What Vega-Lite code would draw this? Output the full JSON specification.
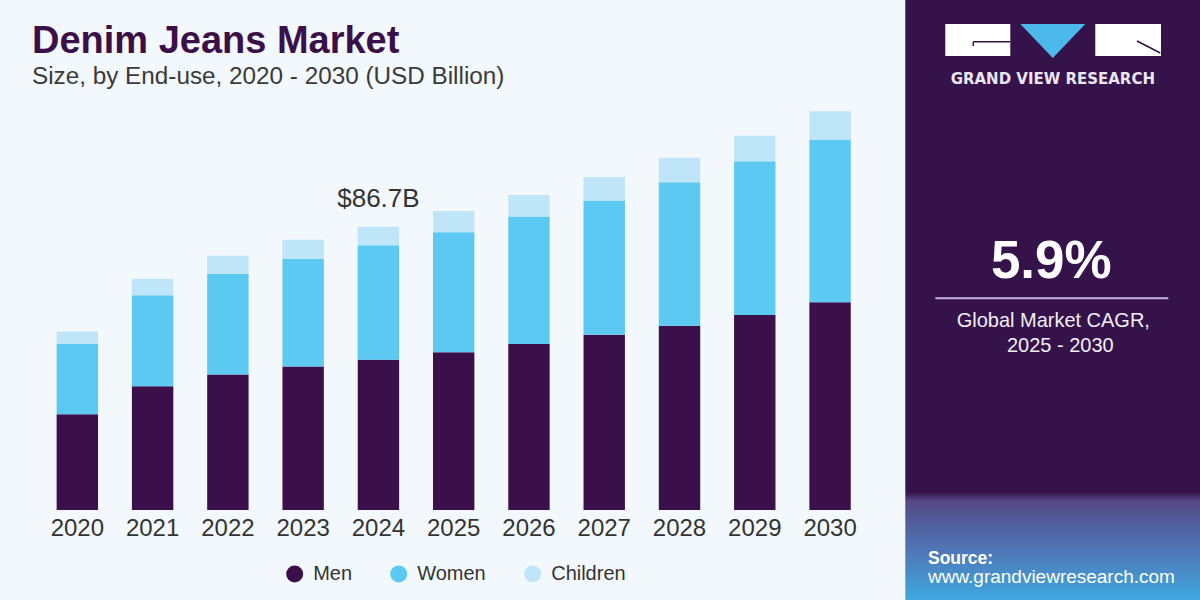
{
  "$schema": "https://vega.github.io/schema/vega-lite/v6.json",
  "background": "#f3f8fc",
  "padding": {"left": 31.7, "top": 0, "right": 0, "bottom": 0},
  "bounds": "flush",
  "spacing": 37.6,
  "config": {
    "view": {"stroke": null},
    "font": "Liberation Sans",
    "legend": {
      "orient": "none",
      "legendX": 245,
      "legendY": 564,
      "direction": "horizontal",
      "symbolType": "circle",
      "symbolSize": 289,
      "symbolStrokeWidth": 0,
      "symbolOpacity": 1,
      "labelFont": "Liberation Sans",
      "labelFontSize": 20,
      "labelColor": "#333333",
      "labelOffset": 8.5,
      "columnPadding": 36,
      "padding": 0
    }
  },
  "hconcat": [
    {
      "width": 828,
      "height": 510,
      "title": {
        "text": "Denim Jeans Market",
        "subtitle": "Size, by End-use, 2020 - 2030 (USD Billion)",
        "anchor": "start",
        "frame": "group",
        "orient": "top",
        "offset": -89,
        "dx": -7.7,
        "font": "Liberation Sans",
        "fontSize": 38,
        "fontWeight": "bold",
        "color": "#3b1049",
        "subtitleFont": "Liberation Sans",
        "subtitleFontSize": 24.3,
        "subtitleColor": "#3a3a3a",
        "subtitlePadding": 4
      },
      "layer": [
        {
          "data": {
            "values": [
              {"year": "2020", "segment": "Men", "value": 29.3},
              {"year": "2020", "segment": "Women", "value": 21.5},
              {"year": "2020", "segment": "Children", "value": 3.8},
              {"year": "2021", "segment": "Men", "value": 37.9},
              {"year": "2021", "segment": "Women", "value": 27.8},
              {"year": "2021", "segment": "Children", "value": 5.1},
              {"year": "2022", "segment": "Men", "value": 41.5},
              {"year": "2022", "segment": "Women", "value": 30.8},
              {"year": "2022", "segment": "Children", "value": 5.5},
              {"year": "2023", "segment": "Men", "value": 43.9},
              {"year": "2023", "segment": "Women", "value": 32.9},
              {"year": "2023", "segment": "Children", "value": 5.9},
              {"year": "2024", "segment": "Men", "value": 46.0},
              {"year": "2024", "segment": "Women", "value": 35.0},
              {"year": "2024", "segment": "Children", "value": 5.7},
              {"year": "2025", "segment": "Men", "value": 48.3},
              {"year": "2025", "segment": "Women", "value": 36.7},
              {"year": "2025", "segment": "Children", "value": 6.5},
              {"year": "2026", "segment": "Men", "value": 50.8},
              {"year": "2026", "segment": "Women", "value": 39.0},
              {"year": "2026", "segment": "Children", "value": 6.6},
              {"year": "2027", "segment": "Men", "value": 53.6},
              {"year": "2027", "segment": "Women", "value": 41.1},
              {"year": "2027", "segment": "Children", "value": 7.2},
              {"year": "2028", "segment": "Men", "value": 56.4},
              {"year": "2028", "segment": "Women", "value": 43.9},
              {"year": "2028", "segment": "Children", "value": 7.5},
              {"year": "2029", "segment": "Men", "value": 59.7},
              {"year": "2029", "segment": "Women", "value": 47.0},
              {"year": "2029", "segment": "Children", "value": 7.8},
              {"year": "2030", "segment": "Men", "value": 63.6},
              {"year": "2030", "segment": "Women", "value": 49.8},
              {"year": "2030", "segment": "Children", "value": 8.6}
            ]
          },
          "transform": [
            {"calculate": "indexof(['Men', 'Women', 'Children'], datum.segment)", "as": "stack_rank"}
          ],
          "mark": {"type": "bar"},
          "encoding": {
            "x": {
              "field": "year",
              "type": "ordinal",
              "scale": {"paddingInner": 0.45, "paddingOuter": 0.225},
              "axis": {
                "title": null,
                "domain": false,
                "ticks": false,
                "labelAngle": 0,
                "labelFont": "Liberation Sans",
                "labelFontSize": 24,
                "labelColor": "#333333",
                "labelPadding": 7
              }
            },
            "y": {
              "field": "value",
              "type": "quantitative",
              "stack": "zero",
              "axis": null,
              "scale": {"domain": [0, 156.08], "nice": false}
            },
            "color": {
              "field": "segment",
              "type": "nominal",
              "sort": ["Men", "Women", "Children"],
              "scale": {
                "domain": ["Men", "Women", "Children"],
                "range": ["#3b0f4a", "#5bc9f2", "#bee6f8"]
              },
              "legend": {"title": null}
            },
            "order": {"field": "stack_rank", "type": "quantitative", "sort": "ascending"}
          }
        },
        {
          "data": {"values": [{"year": "2024", "total": 86.7, "label": "$86.7B"}]},
          "mark": {
            "type": "text",
            "dy": -20,
            "baseline": "alphabetic",
            "align": "center",
            "font": "Liberation Sans",
            "fontSize": 26,
            "color": "#333333"
          },
          "encoding": {
            "x": {"field": "year", "type": "ordinal"},
            "y": {"field": "total", "type": "quantitative"},
            "text": {"field": "label"}
          }
        }
      ]
    },
    {
      "width": 295,
      "height": 600,
      "view": {
        "stroke": null,
        "fill": {
          "gradient": "linear",
          "x1": 0, "y1": 0, "x2": 0, "y2": 1,
          "stops": [
            {"offset": 0, "color": "#35124a"},
            {"offset": 0.82, "color": "#35124a"},
            {"offset": 0.835, "color": "#554985"},
            {"offset": 0.92, "color": "#4f78b8"},
            {"offset": 1, "color": "#3ea8de"}
          ]
        }
      },
      "layer": [
        {
          "data": {"values": [{}]},
          "mark": {"type": "rect", "color": "#ffffff"},
          "encoding": {
            "x": {"datum": 40, "type": "quantitative", "scale": {"domain": [0, 295], "nice": false, "zero": false}, "axis": null},
            "x2": {"datum": 105},
            "y": {"datum": 24, "type": "quantitative", "scale": {"domain": [0, 600], "nice": false, "zero": false, "reverse": true}, "axis": null},
            "y2": {"datum": 56}
          }
        },
        {
          "data": {"values": [{}]},
          "mark": {"type": "rect", "color": "#ffffff"},
          "encoding": {
            "x": {"datum": 190, "type": "quantitative", "axis": null},
            "x2": {"datum": 255.7},
            "y": {"datum": 24, "type": "quantitative", "axis": null},
            "y2": {"datum": 56}
          }
        },
        {
          "data": {"values": [{}]},
          "mark": {"type": "point", "shape": "M-1,-0.523L1,-0.523L0,0.523Z", "filled": true, "opacity": 1, "color": "#4cb9ec", "size": 4225},
          "encoding": {
            "x": {"datum": 147.5, "type": "quantitative", "axis": null},
            "y": {"datum": 41, "type": "quantitative", "axis": null}
          }
        },
        {
          "data": {"values": [{}]},
          "mark": {"type": "rule", "color": "#35124a", "strokeWidth": 1.5},
          "encoding": {
            "x": {"datum": 68, "type": "quantitative", "axis": null},
            "x2": {"datum": 105},
            "y": {"datum": 41.7, "type": "quantitative", "axis": null},
            "y2": {"datum": 41.7}
          }
        },
        {
          "data": {"values": [{}]},
          "mark": {"type": "rule", "color": "#35124a", "strokeWidth": 1.5},
          "encoding": {
            "x": {"datum": 68, "type": "quantitative", "axis": null},
            "x2": {"datum": 68},
            "y": {"datum": 41.7, "type": "quantitative", "axis": null},
            "y2": {"datum": 46}
          }
        },
        {
          "data": {"values": [{}]},
          "mark": {"type": "rule", "color": "#35124a", "strokeWidth": 1.5},
          "encoding": {
            "x": {"datum": 231.7, "type": "quantitative", "axis": null},
            "x2": {"datum": 255},
            "y": {"datum": 41, "type": "quantitative", "axis": null},
            "y2": {"datum": 53}
          }
        },
        {
          "data": {"values": [{}]},
          "mark": {"type": "text", "text": "GRAND VIEW RESEARCH", "font": "DejaVu Sans", "fontWeight": "bold", "fontSize": 15, "color": "#ece6f2", "align": "center", "baseline": "alphabetic"},
          "encoding": {
            "x": {"datum": 147.5, "type": "quantitative", "axis": null},
            "y": {"datum": 84, "type": "quantitative", "axis": null}
          }
        },
        {
          "data": {"values": [{}]},
          "mark": {"type": "text", "text": "5.9%", "font": "Liberation Sans", "fontWeight": "bold", "fontSize": 53, "color": "#ffffff", "align": "center", "baseline": "alphabetic"},
          "encoding": {
            "x": {"datum": 146, "type": "quantitative", "axis": null},
            "y": {"datum": 277.7, "type": "quantitative", "axis": null}
          }
        },
        {
          "data": {"values": [{}]},
          "mark": {"type": "rule", "color": "#c6b0e0", "strokeWidth": 2},
          "encoding": {
            "x": {"datum": 30, "type": "quantitative", "axis": null},
            "x2": {"datum": 263},
            "y": {"datum": 298.3, "type": "quantitative", "axis": null},
            "y2": {"datum": 298.3}
          }
        },
        {
          "data": {"values": [{}]},
          "mark": {"type": "text", "text": "Global Market CAGR,", "font": "Liberation Sans", "fontSize": 20, "color": "#f2eef6", "align": "center", "baseline": "alphabetic"},
          "encoding": {
            "x": {"datum": 148, "type": "quantitative", "axis": null},
            "y": {"datum": 326.7, "type": "quantitative", "axis": null}
          }
        },
        {
          "data": {"values": [{}]},
          "mark": {"type": "text", "text": "2025 - 2030", "font": "Liberation Sans", "fontSize": 20, "color": "#f2eef6", "align": "center", "baseline": "alphabetic"},
          "encoding": {
            "x": {"datum": 155, "type": "quantitative", "axis": null},
            "y": {"datum": 351.7, "type": "quantitative", "axis": null}
          }
        },
        {
          "data": {"values": [{}]},
          "mark": {"type": "text", "text": "Source:", "font": "Liberation Sans", "fontWeight": "bold", "fontSize": 17.5, "color": "#ffffff", "align": "left", "baseline": "alphabetic"},
          "encoding": {
            "x": {"datum": 22.7, "type": "quantitative", "axis": null},
            "y": {"datum": 564.5, "type": "quantitative", "axis": null}
          }
        },
        {
          "data": {"values": [{}]},
          "mark": {"type": "text", "text": "www.grandviewresearch.com", "font": "Liberation Sans", "fontSize": 19, "color": "#ffffff", "align": "left", "baseline": "alphabetic"},
          "encoding": {
            "x": {"datum": 22.7, "type": "quantitative", "axis": null},
            "y": {"datum": 583.5, "type": "quantitative", "axis": null}
          }
        }
      ]
    }
  ]
}
